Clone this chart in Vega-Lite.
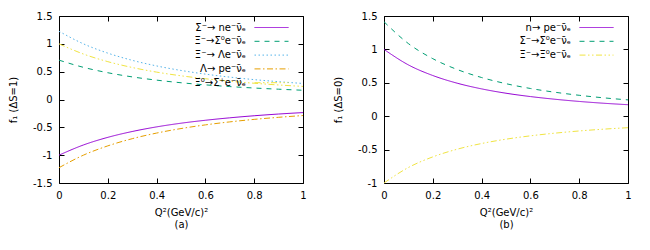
{
  "$schema": "https://vega.github.io/schema/vega-lite/v6.json",
  "padding": {"left": 7, "top": 10, "right": 5, "bottom": 0},
  "config": {
    "font": "DejaVu Sans",
    "view": {"stroke": "#000", "strokeWidth": 1},
    "axis": {
      "domain": false, "grid": false, "tickSize": -5, "tickColor": "#000", "tickWidth": 1,
      "labelColor": "#000", "titleColor": "#000", "labelFontSize": 10, "titleFontSize": 10,
      "titleFontWeight": "normal", "labelFlush": false, "labelOverlap": false, "labelPadding": 12,
      "labelExpr": "toString(datum.value)"
    },
    "legend": {"padding": 0}
  },
  "datasets": {
    "a": [
      {"q": 0, "f": -1, "s": "Σ⁻→ ne⁻ν̄ₑ"}, {"q": 0.1, "f": -0.817, "s": "Σ⁻→ ne⁻ν̄ₑ"}, {"q": 0.2, "f": -0.68, "s": "Σ⁻→ ne⁻ν̄ₑ"}, {"q": 0.3, "f": -0.575, "s": "Σ⁻→ ne⁻ν̄ₑ"}, {"q": 0.4, "f": -0.492, "s": "Σ⁻→ ne⁻ν̄ₑ"}, {"q": 0.5, "f": -0.426, "s": "Σ⁻→ ne⁻ν̄ₑ"}, {"q": 0.6, "f": -0.373, "s": "Σ⁻→ ne⁻ν̄ₑ"}, {"q": 0.7, "f": -0.329, "s": "Σ⁻→ ne⁻ν̄ₑ"}, {"q": 0.8, "f": -0.292, "s": "Σ⁻→ ne⁻ν̄ₑ"}, {"q": 0.9, "f": -0.261, "s": "Σ⁻→ ne⁻ν̄ₑ"}, {"q": 1, "f": -0.235, "s": "Σ⁻→ ne⁻ν̄ₑ"},
      {"q": 0, "f": 0.707, "s": "Ξ⁻→Σ⁰e⁻ν̄ₑ"}, {"q": 0.1, "f": 0.578, "s": "Ξ⁻→Σ⁰e⁻ν̄ₑ"}, {"q": 0.2, "f": 0.481, "s": "Ξ⁻→Σ⁰e⁻ν̄ₑ"}, {"q": 0.3, "f": 0.406, "s": "Ξ⁻→Σ⁰e⁻ν̄ₑ"}, {"q": 0.4, "f": 0.348, "s": "Ξ⁻→Σ⁰e⁻ν̄ₑ"}, {"q": 0.5, "f": 0.301, "s": "Ξ⁻→Σ⁰e⁻ν̄ₑ"}, {"q": 0.6, "f": 0.263, "s": "Ξ⁻→Σ⁰e⁻ν̄ₑ"}, {"q": 0.7, "f": 0.232, "s": "Ξ⁻→Σ⁰e⁻ν̄ₑ"}, {"q": 0.8, "f": 0.206, "s": "Ξ⁻→Σ⁰e⁻ν̄ₑ"}, {"q": 0.9, "f": 0.185, "s": "Ξ⁻→Σ⁰e⁻ν̄ₑ"}, {"q": 1, "f": 0.166, "s": "Ξ⁻→Σ⁰e⁻ν̄ₑ"},
      {"q": 0, "f": 1.225, "s": "Ξ⁻→ Λe⁻ν̄ₑ"}, {"q": 0.1, "f": 1.0, "s": "Ξ⁻→ Λe⁻ν̄ₑ"}, {"q": 0.2, "f": 0.833, "s": "Ξ⁻→ Λe⁻ν̄ₑ"}, {"q": 0.3, "f": 0.704, "s": "Ξ⁻→ Λe⁻ν̄ₑ"}, {"q": 0.4, "f": 0.603, "s": "Ξ⁻→ Λe⁻ν̄ₑ"}, {"q": 0.5, "f": 0.522, "s": "Ξ⁻→ Λe⁻ν̄ₑ"}, {"q": 0.6, "f": 0.456, "s": "Ξ⁻→ Λe⁻ν̄ₑ"}, {"q": 0.7, "f": 0.402, "s": "Ξ⁻→ Λe⁻ν̄ₑ"}, {"q": 0.8, "f": 0.357, "s": "Ξ⁻→ Λe⁻ν̄ₑ"}, {"q": 0.9, "f": 0.32, "s": "Ξ⁻→ Λe⁻ν̄ₑ"}, {"q": 1, "f": 0.288, "s": "Ξ⁻→ Λe⁻ν̄ₑ"},
      {"q": 0, "f": -1.225, "s": "Λ→ pe⁻ν̄ₑ"}, {"q": 0.1, "f": -1.0, "s": "Λ→ pe⁻ν̄ₑ"}, {"q": 0.2, "f": -0.833, "s": "Λ→ pe⁻ν̄ₑ"}, {"q": 0.3, "f": -0.704, "s": "Λ→ pe⁻ν̄ₑ"}, {"q": 0.4, "f": -0.603, "s": "Λ→ pe⁻ν̄ₑ"}, {"q": 0.5, "f": -0.522, "s": "Λ→ pe⁻ν̄ₑ"}, {"q": 0.6, "f": -0.456, "s": "Λ→ pe⁻ν̄ₑ"}, {"q": 0.7, "f": -0.402, "s": "Λ→ pe⁻ν̄ₑ"}, {"q": 0.8, "f": -0.357, "s": "Λ→ pe⁻ν̄ₑ"}, {"q": 0.9, "f": -0.32, "s": "Λ→ pe⁻ν̄ₑ"}, {"q": 1, "f": -0.288, "s": "Λ→ pe⁻ν̄ₑ"},
      {"q": 0, "f": 1, "s": "Ξ⁰→Σ⁺e⁻ν̄ₑ"}, {"q": 0.1, "f": 0.817, "s": "Ξ⁰→Σ⁺e⁻ν̄ₑ"}, {"q": 0.2, "f": 0.68, "s": "Ξ⁰→Σ⁺e⁻ν̄ₑ"}, {"q": 0.3, "f": 0.575, "s": "Ξ⁰→Σ⁺e⁻ν̄ₑ"}, {"q": 0.4, "f": 0.492, "s": "Ξ⁰→Σ⁺e⁻ν̄ₑ"}, {"q": 0.5, "f": 0.426, "s": "Ξ⁰→Σ⁺e⁻ν̄ₑ"}, {"q": 0.6, "f": 0.373, "s": "Ξ⁰→Σ⁺e⁻ν̄ₑ"}, {"q": 0.7, "f": 0.329, "s": "Ξ⁰→Σ⁺e⁻ν̄ₑ"}, {"q": 0.8, "f": 0.292, "s": "Ξ⁰→Σ⁺e⁻ν̄ₑ"}, {"q": 0.9, "f": 0.261, "s": "Ξ⁰→Σ⁺e⁻ν̄ₑ"}, {"q": 1, "f": 0.235, "s": "Ξ⁰→Σ⁺e⁻ν̄ₑ"}
    ],
    "b": [
      {"q": 0, "f": 1, "s": "n→ pe⁻ν̄ₑ"}, {"q": 0.1, "f": 0.768, "s": "n→ pe⁻ν̄ₑ"}, {"q": 0.2, "f": 0.609, "s": "n→ pe⁻ν̄ₑ"}, {"q": 0.3, "f": 0.494, "s": "n→ pe⁻ν̄ₑ"}, {"q": 0.4, "f": 0.409, "s": "n→ pe⁻ν̄ₑ"}, {"q": 0.5, "f": 0.344, "s": "n→ pe⁻ν̄ₑ"}, {"q": 0.6, "f": 0.294, "s": "n→ pe⁻ν̄ₑ"}, {"q": 0.7, "f": 0.254, "s": "n→ pe⁻ν̄ₑ"}, {"q": 0.8, "f": 0.221, "s": "n→ pe⁻ν̄ₑ"}, {"q": 0.9, "f": 0.194, "s": "n→ pe⁻ν̄ₑ"}, {"q": 1, "f": 0.172, "s": "n→ pe⁻ν̄ₑ"},
      {"q": 0, "f": 1.414, "s": "Σ⁻→Σ⁰e⁻ν̄ₑ"}, {"q": 0.1, "f": 1.087, "s": "Σ⁻→Σ⁰e⁻ν̄ₑ"}, {"q": 0.2, "f": 0.861, "s": "Σ⁻→Σ⁰e⁻ν̄ₑ"}, {"q": 0.3, "f": 0.699, "s": "Σ⁻→Σ⁰e⁻ν̄ₑ"}, {"q": 0.4, "f": 0.579, "s": "Σ⁻→Σ⁰e⁻ν̄ₑ"}, {"q": 0.5, "f": 0.487, "s": "Σ⁻→Σ⁰e⁻ν̄ₑ"}, {"q": 0.6, "f": 0.415, "s": "Σ⁻→Σ⁰e⁻ν̄ₑ"}, {"q": 0.7, "f": 0.359, "s": "Σ⁻→Σ⁰e⁻ν̄ₑ"}, {"q": 0.8, "f": 0.313, "s": "Σ⁻→Σ⁰e⁻ν̄ₑ"}, {"q": 0.9, "f": 0.275, "s": "Σ⁻→Σ⁰e⁻ν̄ₑ"}, {"q": 1, "f": 0.244, "s": "Σ⁻→Σ⁰e⁻ν̄ₑ"},
      {"q": 0, "f": -1, "s": "Ξ⁻→Ξ⁰e⁻ν̄ₑ"}, {"q": 0.1, "f": -0.768, "s": "Ξ⁻→Ξ⁰e⁻ν̄ₑ"}, {"q": 0.2, "f": -0.609, "s": "Ξ⁻→Ξ⁰e⁻ν̄ₑ"}, {"q": 0.3, "f": -0.494, "s": "Ξ⁻→Ξ⁰e⁻ν̄ₑ"}, {"q": 0.4, "f": -0.409, "s": "Ξ⁻→Ξ⁰e⁻ν̄ₑ"}, {"q": 0.5, "f": -0.344, "s": "Ξ⁻→Ξ⁰e⁻ν̄ₑ"}, {"q": 0.6, "f": -0.294, "s": "Ξ⁻→Ξ⁰e⁻ν̄ₑ"}, {"q": 0.7, "f": -0.254, "s": "Ξ⁻→Ξ⁰e⁻ν̄ₑ"}, {"q": 0.8, "f": -0.221, "s": "Ξ⁻→Ξ⁰e⁻ν̄ₑ"}, {"q": 0.9, "f": -0.194, "s": "Ξ⁻→Ξ⁰e⁻ν̄ₑ"}, {"q": 1, "f": -0.172, "s": "Ξ⁻→Ξ⁰e⁻ν̄ₑ"}
    ]
  },
  "spacing": 25,
  "resolve": {"scale": {"x": "independent", "y": "independent", "color": "independent", "strokeDash": "independent"}},
  "hconcat": [
    {
      "width": 244, "height": 167,
      "data": {"name": "a"},
      "resolve": {"axis": {"x": "independent", "y": "independent"}},
      "layer": [
        {
          "mark": {"type": "line", "strokeWidth": 1, "interpolate": "monotone"},
          "encoding": {
            "x": {"field": "q", "type": "quantitative", "scale": {"domain": [0, 1], "nice": false},
                  "axis": {"values": [0, 0.2, 0.4, 0.6, 0.8, 1], "title": ["Q²(GeV/c)²", "(a)"], "titlePadding": 7}},
            "y": {"field": "f", "type": "quantitative", "scale": {"domain": [-1.5, 1.5], "nice": false},
                  "axis": {"values": [-1.5, -1, -0.5, 0, 0.5, 1, 1.5], "title": "f₁ (ΔS=1)", "titlePadding": 14}},
            "color": {"field": "s", "type": "nominal",
                      "scale": {"domain": ["Σ⁻→ ne⁻ν̄ₑ", "Ξ⁻→Σ⁰e⁻ν̄ₑ", "Ξ⁻→ Λe⁻ν̄ₑ", "Λ→ pe⁻ν̄ₑ", "Ξ⁰→Σ⁺e⁻ν̄ₑ"],
                                "range": ["#9400d3", "#009e73", "#56b4e9", "#e69f00", "#f0e442"]},
                      "legend": {"title": null, "orient": "none", "legendX": 207, "legendY": 6,
                                 "symbolType": "M-3.4,0H3.4", "symbolSize": 100, "symbolStrokeWidth": 1,
                                 "labelAlign": "right", "labelOffset": -31, "labelFontSize": 10, "labelLimit": 200,
                                 "rowPadding": 2.8, "labelColor": "#000"}},
            "strokeDash": {"field": "s", "type": "nominal",
                           "scale": {"domain": ["Σ⁻→ ne⁻ν̄ₑ", "Ξ⁻→Σ⁰e⁻ν̄ₑ", "Ξ⁻→ Λe⁻ν̄ₑ", "Λ→ pe⁻ν̄ₑ", "Ξ⁰→Σ⁺e⁻ν̄ₑ"],
                                     "range": [[1, 0], [5, 5], [1.5, 2.5], [6, 2.5, 1.5, 2.5], [6, 2.5, 1.5, 2.5, 1.5, 2.5]]},
                           "legend": {"title": null, "orient": "none", "legendX": 207, "legendY": 6,
                                      "symbolType": "M-3.4,0H3.4", "symbolSize": 100, "symbolStrokeWidth": 1,
                                      "labelAlign": "right", "labelOffset": -31, "labelFontSize": 10, "labelLimit": 200,
                                      "rowPadding": 2.8, "labelColor": "#000"}}
          }
        },
        {
          "mark": {"type": "point", "opacity": 0},
          "encoding": {
            "x": {"field": "q", "type": "quantitative", "axis": {"orient": "top", "values": [0, 0.2, 0.4, 0.6, 0.8, 1], "labels": false, "title": null}},
            "y": {"field": "f", "type": "quantitative", "axis": {"orient": "right", "values": [-1.5, -1, -0.5, 0, 0.5, 1, 1.5], "labels": false, "title": null}}
          }
        }
      ]
    },
    {
      "width": 244, "height": 167,
      "data": {"name": "b"},
      "resolve": {"axis": {"x": "independent", "y": "independent"}},
      "layer": [
        {
          "mark": {"type": "line", "strokeWidth": 1, "interpolate": "monotone"},
          "encoding": {
            "x": {"field": "q", "type": "quantitative", "scale": {"domain": [0, 1], "nice": false},
                  "axis": {"values": [0, 0.2, 0.4, 0.6, 0.8, 1], "title": ["Q²(GeV/c)²", "(b)"], "titlePadding": 7}},
            "y": {"field": "f", "type": "quantitative", "scale": {"domain": [-1, 1.5], "nice": false},
                  "axis": {"values": [-1, -0.5, 0, 0.5, 1, 1.5], "title": "f₁ (ΔS=0)", "titlePadding": 14}},
            "color": {"field": "s", "type": "nominal",
                      "scale": {"domain": ["n→ pe⁻ν̄ₑ", "Σ⁻→Σ⁰e⁻ν̄ₑ", "Ξ⁻→Ξ⁰e⁻ν̄ₑ"],
                                "range": ["#9400d3", "#009e73", "#f0e442"]},
                      "legend": {"title": null, "orient": "none", "legendX": 207, "legendY": 6,
                                 "symbolType": "M-3.4,0H3.4", "symbolSize": 100, "symbolStrokeWidth": 1,
                                 "labelAlign": "right", "labelOffset": -31, "labelFontSize": 10, "labelLimit": 200,
                                 "rowPadding": 2.8, "labelColor": "#000"}},
            "strokeDash": {"field": "s", "type": "nominal",
                           "scale": {"domain": ["n→ pe⁻ν̄ₑ", "Σ⁻→Σ⁰e⁻ν̄ₑ", "Ξ⁻→Ξ⁰e⁻ν̄ₑ"],
                                     "range": [[1, 0], [5, 5], [6, 2.5, 1.5, 2.5, 1.5, 2.5]]},
                           "legend": {"title": null, "orient": "none", "legendX": 207, "legendY": 6,
                                      "symbolType": "M-3.4,0H3.4", "symbolSize": 100, "symbolStrokeWidth": 1,
                                      "labelAlign": "right", "labelOffset": -31, "labelFontSize": 10, "labelLimit": 200,
                                      "rowPadding": 2.8, "labelColor": "#000"}}
          }
        },
        {
          "mark": {"type": "point", "opacity": 0},
          "encoding": {
            "x": {"field": "q", "type": "quantitative", "axis": {"orient": "top", "values": [0, 0.2, 0.4, 0.6, 0.8, 1], "labels": false, "title": null}},
            "y": {"field": "f", "type": "quantitative", "axis": {"orient": "right", "values": [-1, -0.5, 0, 0.5, 1, 1.5], "labels": false, "title": null}}
          }
        }
      ]
    }
  ]
}
